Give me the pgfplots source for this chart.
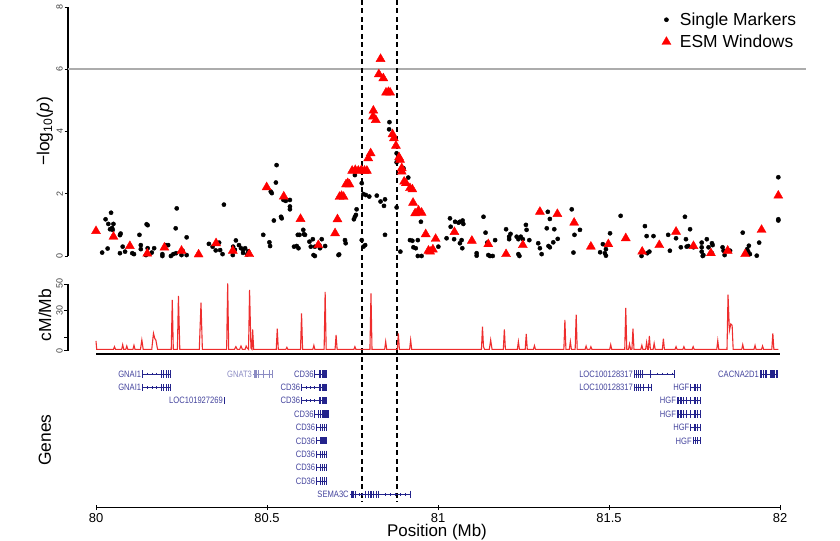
\documentclass[border=0pt]{standalone}
\usepackage{fontspec}
\setmainfont{Liberation Sans}
\newfontfamily\genefont[FakeStretch=0.82]{Liberation Sans}
\usepackage{pgfplots}
\usepackage{pgfplotstable}
\pgfplotsset{compat=1.18}
\definecolor{genecol}{RGB}{35,35,140}
\definecolor{genelight}{RGB}{140,140,195}
\definecolor{recred}{RGB}{238,45,45}

\pgfplotstableread{
x y
80.018 0.11
80.028 1.18
80.034 0.24
80.036 1.03
80.044 1.39
80.041 0.86
80.049 0.84
80.051 1.03
80.047 0.90
80.070 0.09
80.070 0.67
80.072 0.72
80.078 0.30
80.085 0.14
80.106 0.09
80.111 0.06
80.127 0.68
80.131 0.35
80.131 0.22
80.148 1.02
80.151 0.99
80.151 0.25
80.170 0.25
80.163 0.11
80.146 0.03
80.194 0.06
80.194 0.00
80.204 0.35
80.211 0.35
80.219 0.00
80.226 0.06
80.233 0.89
80.236 1.53
80.234 0.09
80.250 0.03
80.253 0.17
80.265 0.60
80.265 0.03
80.330 0.39
80.341 0.30
80.350 0.18
80.360 0.43
80.363 0.19
80.370 0.06
80.374 1.65
80.400 0.03
80.401 0.30
80.406 0.20
80.409 0.50
80.418 0.35
80.424 0.25
80.430 0.20
80.430 0.10
80.436 0.25
80.442 0.05
80.445 0.15
80.489 0.68
80.507 0.44
80.509 0.32
80.520 1.14
80.528 2.92
80.526 2.36
80.511 2.07
80.514 2.02
80.541 1.26
80.543 1.21
80.548 1.80
80.555 1.77
80.567 1.80
80.567 1.59
80.567 1.50
80.579 0.30
80.590 0.68
80.592 0.25
80.595 0.68
80.587 0.32
80.606 0.84
80.608 0.70
80.611 0.68
80.624 0.46
80.634 0.54
80.636 0.03
80.640 0.00
80.628 0.30
80.640 0.30
80.653 0.35
80.655 0.25
80.660 0.54
80.670 0.32
80.709 0.03
80.711 0.05
80.728 0.51
80.730 0.41
80.754 1.18
80.757 1.26
80.762 1.50
80.760 1.32
80.757 2.60
80.777 2.34
80.777 0.51
80.782 0.30
80.787 0.35
80.782 1.99
80.789 1.96
80.799 1.91
80.821 1.94
80.832 1.75
80.845 1.82
80.842 1.61
80.845 0.68
80.858 4.30
80.857 4.07
80.879 3.30
80.879 3.01
80.879 1.56
80.890 0.14
80.897 2.74
80.899 2.82
80.913 2.52
80.950 1.10
80.918 0.51
80.925 0.49
80.928 0.28
80.935 0.25
80.941 0.51
80.941 0.00
80.952 0.00
81.001 0.30
81.025 0.57
81.035 1.21
81.037 0.94
81.047 0.54
81.050 1.10
81.060 1.07
81.064 1.10
81.072 1.14
81.069 0.51
81.071 0.25
81.074 1.03
81.064 0.41
81.113 0.09
81.113 0.01
81.133 1.26
81.139 0.75
81.144 0.43
81.147 0.03
81.152 0.00
81.160 0.00
81.167 0.51
81.199 0.86
81.208 0.62
81.208 0.54
81.212 0.71
81.230 0.62
81.235 0.06
81.238 0.00
81.235 0.54
81.242 0.62
81.248 0.54
81.257 1.00
81.259 0.84
81.267 0.51
81.293 0.41
81.298 0.25
81.303 0.06
81.318 0.89
81.321 1.42
81.327 1.19
81.323 0.32
81.327 0.28
81.337 0.44
81.340 0.86
81.350 0.55
81.391 1.50
81.399 0.68
81.396 0.11
81.415 0.84
81.474 0.12
81.482 0.38
81.488 0.09
81.491 0.01
81.491 0.22
81.503 0.73
81.534 1.29
81.595 0.00
81.605 0.96
81.610 0.64
81.612 0.09
81.630 0.64
81.618 0.14
81.673 0.68
81.678 0.17
81.696 0.57
81.710 0.28
81.722 1.26
81.725 0.54
81.737 0.86
81.727 0.30
81.732 0.32
81.747 0.28
81.771 0.43
81.771 0.28
81.771 0.14
81.774 0.00
81.776 0.03
81.786 0.54
81.791 0.28
81.801 0.41
81.803 0.35
81.801 0.09
81.832 0.28
81.835 0.17
81.838 0.03
81.854 0.17
81.891 0.75
81.904 0.22
81.909 0.33
81.912 0.06
81.907 0.14
81.932 0.01
81.939 0.43
81.995 2.53
81.995 1.18
81.995 1.14
}\singlemarkers

\pgfplotstableread{
x y
80.000 0.80
80.051 0.62
80.099 0.32
80.150 0.08
80.200 0.27
80.250 0.17
80.300 0.05
80.351 0.41
80.400 0.17
80.448 0.06
80.499 2.21
80.549 1.91
80.598 1.19
80.650 0.35
80.699 0.73
80.706 1.18
80.712 1.90
80.718 1.93
80.724 1.90
80.731 2.30
80.736 2.34
80.741 2.30
80.749 2.74
80.758 2.76
80.767 2.74
80.776 2.76
80.785 2.74
80.792 2.74
80.796 3.14
80.803 3.30
80.811 4.67
80.810 4.48
80.818 4.37
80.832 6.33
80.827 5.84
80.840 5.71
80.848 5.25
80.855 5.27
80.860 5.25
80.867 3.91
80.871 3.78
80.877 3.54
80.886 3.17
80.889 3.09
80.894 2.82
80.894 2.71
80.901 2.39
80.906 2.34
80.918 2.18
80.925 2.14
80.927 1.71
80.933 1.37
80.943 1.46
80.952 1.39
80.964 0.70
80.993 0.55
80.972 0.17
80.977 0.14
80.985 0.21
81.048 0.77
81.099 0.49
81.147 0.38
81.199 0.06
81.248 0.35
81.298 1.42
81.349 1.35
81.398 1.07
81.447 0.30
81.498 0.38
81.549 0.57
81.597 0.14
81.647 0.35
81.696 0.78
81.747 0.32
81.798 0.09
81.847 0.17
81.898 0.06
81.946 0.84
81.995 1.94
}\esmwindows

\pgfplotstableread{
x y
80.000 7.3
80.002 1
80.051 1
80.054 3
80.057 1
80.075 1
80.078 4.5
80.081 1
80.087 1
80.090 3.5
80.093 1
80.108 1
80.111 4
80.114 1
80.130 1
80.134 8
80.138 1
80.163 1
80.168 13
80.172 9
80.175 8
80.180 1
80.220 1
80.223 38
80.226 1
80.238 1
80.241 41
80.245 1
80.302 1
80.307 36
80.311 1
80.382 1
80.385 50.5
80.388 1
80.405 1
80.409 3
80.413 1
80.420 1
80.424 3.5
80.428 1
80.436 1
80.439 3.5
80.442 2
80.446 1
80.449 45.5
80.453 2
80.456 1
80.458 16
80.461 1
80.527 1
80.530 16.5
80.533 1
80.555 1
80.558 2.5
80.561 1
80.598 1
80.601 28
80.604 1
80.634 1
80.637 4
80.640 1
80.667 1
80.670 44
80.673 1
80.699 1
80.702 11.8
80.705 1
80.754 1
80.757 3
80.760 1
80.801 1
80.804 43
80.807 1
80.844 1
80.847 6.8
80.850 1
80.881 1
80.884 13
80.887 1
80.917 1
80.920 8
80.923 1
81.127 1
81.130 18
81.133 3
81.136 1
81.150 1
81.154 8
81.158 1
81.191 1
81.194 16
81.197 1
81.232 1
81.235 6.8
81.238 1
81.255 1
81.258 12.5
81.261 1
81.279 1
81.282 3.8
81.285 1
81.368 1
81.371 23
81.374 1
81.384 1
81.387 6.8
81.390 1
81.401 1
81.404 27
81.407 1
81.430 1
81.433 3.5
81.436 1
81.444 1
81.447 3
81.450 1
81.502 1
81.505 4.5
81.508 1
81.546 1
81.549 32
81.552 1
81.557 1
81.560 5
81.563 1
81.567 1
81.570 16.5
81.573 1
81.593 1
81.596 4
81.599 1
81.607 1
81.610 6.3
81.613 1
81.615 1
81.618 11
81.621 1
81.629 1
81.632 5.5
81.635 1
81.656 1
81.659 9
81.662 1
81.693 1
81.696 3
81.699 1
81.716 1
81.719 3
81.722 1
81.743 1
81.746 3
81.749 1
81.815 1
81.818 7.5
81.821 1
81.845 1
81.848 42
81.852 15
81.856 20
81.860 19
81.863 1
81.888 1
81.891 4.5
81.894 1
81.924 1
81.927 4
81.930 1
81.946 1
81.949 3.5
81.952 1
81.976 1
81.979 13
81.982 1
81.995 1
}\recomb

\tikzset{glabel/.style={anchor=east, text=genecol!85, font=\genefont\fontsize{9.3}{10}\selectfont, inner xsep=1.2bp, inner ysep=0pt}}

\begin{document}
\begin{tikzpicture}
\path[use as bounding box] (0,0) rectangle (840bp,541bp);
\pgfplotsset{
  base/.style={scale only axis, width=738bp, xmin=79.9181, xmax=82.0760, clip=false,
    /pgf/number format/assume math mode=true,
    tick align=outside, major tick length=3.5bp,
    every tick/.style={black, line width=0.8bp},
    yticklabel style={rotate=90, anchor=south, inner sep=1.5bp, font=\fontsize{9}{10}\selectfont, text=black!75},
    ylabel style={at={(axis description cs:-0.0312,0.5)}, anchor=center, rotate=0, font=\fontsize{17.5}{20}\selectfont},
  },
  geneline/.style={genecol, line width=0.7bp, forget plot},
  exon/.style={genecol, only marks, mark=|, mark size=3.6bp, mark options={line width=0.9bp}, forget plot},
  arrowm/.style={genecol, only marks, mark=|, mark size=1.3bp, mark options={line width=0.5bp}, forget plot},
}
% ---------------- top panel
\begin{axis}[base, at={(68bp,285bp)}, anchor=south west, height=249bp, ymin=0, ymax=8,
  axis x line=none, axis y line*=left, y axis line style={line width=1.1bp},
  ytick={0,2,4,6,8},
  ylabel={−log\textsubscript{10}(\textit{p})},
  legend style={at={(axis description cs:0.8045,0.986)}, anchor=north west, draw=none, fill=none,
    font=\fontsize{17.5}{20}\selectfont, row sep=4bp, column sep=7bp, inner sep=0pt},
  legend cell align=left]
\addplot[gray!65, line width=1.6bp, forget plot] coordinates {(79.9181,6) (82.0760,6)};
\addplot[only marks, mark=*, mark size=2.1bp, black] table[x=x,y=y] {\singlemarkers};
\addlegendentry{Single Markers}
\addplot[only marks, mark=triangle*, mark size=5.2bp, red, mark options={draw=red, fill=red}] table[x=x,y=y] {\esmwindows};
\addlegendentry{ESM Windows}
\addplot[black, dashed, line width=1.3bp, dash pattern=on 5bp off 3.5bp, forget plot] coordinates {(80.778,8.23) (80.778,-7.9)};
\addplot[black, dashed, line width=1.3bp, dash pattern=on 5bp off 3.5bp, forget plot] coordinates {(80.880,8.23) (80.880,-7.9)};
\end{axis}
% ---------------- recombination panel
\begin{axis}[base, at={(68bp,190.3bp)}, anchor=south west, height=66.7bp, ymin=0, ymax=50,
  axis x line=none, axis y line*=left, y axis line style={line width=1.1bp},
  ytick={0,10,30,50}, yticklabels={0,,30,50},
  ylabel={cM/Mb}, ylabel style={at={(axis description cs:-0.0312,0.535)}}]
\addplot[recred, line width=1.1bp] table[x=x,y=y] {\recomb};
\addplot[black, line width=1.6bp] coordinates {(80,-2.5) (82,-2.5)};
\end{axis}
% ---------------- genes panel
\begin{axis}[base, at={(68bp,33.3bp)}, anchor=south west, height=140.4bp, ymin=0, ymax=10.5,
  axis x line*=bottom, x axis line style={draw=none},
  axis y line*=left, y axis line style={draw=none}, ytick=\empty,
  xtick={80,80.5,81,81.5,82}, xticklabels={80,80.5,81,81.5,82},
  tick align=center, major tick length=5bp,
  xticklabel style={anchor=north, inner sep=0pt, yshift=-3.3bp, font=\fontsize{13}{15}\selectfont},
  xlabel={Position (Mb)},
  xlabel style={at={(axis description cs:0.5,0)}, anchor=north, inner sep=0pt, yshift=-16.8bp, font=\fontsize{17}{20}\selectfont},
  ylabel={Genes}, ylabel style={at={(axis description cs:-0.0312,0.482)}}]
\addplot[black, line width=1.4bp, forget plot] coordinates {(80,0) (82,0)};
% GNAI1 rows 1 and 2
\addplot[geneline] coordinates {(80.136,10) (80.219,10)};
\addplot[exon] coordinates {(80.136,10) (80.190,10) (80.197,10) (80.205,10) (80.211,10) (80.219,10)};
\addplot[arrowm] coordinates {(80.150,10) (80.163,10) (80.175,10)};
\node[glabel] at (axis cs:80.136,10) {GNAI1};
\addplot[geneline] coordinates {(80.136,9) (80.219,9)};
\addplot[exon] coordinates {(80.136,9) (80.190,9) (80.197,9) (80.205,9) (80.211,9) (80.219,9)};
\addplot[arrowm] coordinates {(80.150,9) (80.163,9) (80.175,9)};
\node[glabel] at (axis cs:80.136,9) {GNAI1};
% LOC101927269
\addplot[exon] coordinates {(80.375,8)};
\node[glabel] at (axis cs:80.375,8) {LOC101927269};
% GNAT3
\addplot[genelight, line width=0.7bp, forget plot] coordinates {(80.460,10) (80.515,10)};
\addplot[genelight, only marks, mark=|, mark size=3.6bp, mark options={line width=0.9bp}, forget plot] coordinates {(80.462,10) (80.466,10) (80.470,10) (80.476,10) (80.491,10) (80.506,10) (80.515,10)};
\node[glabel, text=genelight] at (axis cs:80.460,10) {GNAT3};
% CD36
\addplot[geneline] coordinates {(80.640,10) (80.675,10)};
\addplot[exon] coordinates {(80.640,10) (80.652,10) (80.655,10) (80.661,10) (80.664,10) (80.667,10) (80.671,10) (80.675,10)};
\node[glabel] at (axis cs:80.640,10) {CD36};
\addplot[geneline] coordinates {(80.601,9) (80.675,9)};
\addplot[exon] coordinates {(80.601,9) (80.652,9) (80.655,9) (80.661,9) (80.664,9) (80.667,9) (80.671,9) (80.675,9)};
\addplot[arrowm] coordinates {(80.614,9) (80.626,9) (80.637,9)};
\node[glabel] at (axis cs:80.601,9) {CD36};
\addplot[geneline] coordinates {(80.601,8) (80.675,8)};
\addplot[exon] coordinates {(80.601,8) (80.652,8) (80.655,8) (80.661,8) (80.664,8) (80.667,8) (80.671,8) (80.675,8)};
\addplot[arrowm] coordinates {(80.614,8) (80.626,8) (80.637,8)};
\node[glabel] at (axis cs:80.601,8) {CD36};
\addplot[geneline] coordinates {(80.640,7) (80.679,7)};
\addplot[exon] coordinates {(80.640,7) (80.649,7) (80.655,7) (80.661,7) (80.664,7) (80.667,7) (80.671,7) (80.675,7) (80.677,7) (80.679,7)};
\node[glabel] at (axis cs:80.640,7) {CD36};
\addplot[geneline] coordinates {(80.645,6) (80.675,6)};
\addplot[exon] coordinates {(80.645,6) (80.655,6) (80.661,6) (80.667,6) (80.675,6)};
\node[glabel] at (axis cs:80.645,6) {CD36};
\addplot[geneline] coordinates {(80.645,5) (80.675,5)};
\addplot[exon] coordinates {(80.645,5) (80.655,5) (80.658,5) (80.661,5) (80.664,5) (80.667,5) (80.671,5) (80.675,5)};
\node[glabel] at (axis cs:80.645,5) {CD36};
\addplot[geneline] coordinates {(80.645,4) (80.675,4)};
\addplot[exon] coordinates {(80.645,4) (80.655,4) (80.661,4) (80.667,4) (80.675,4)};
\node[glabel] at (axis cs:80.645,4) {CD36};
\addplot[geneline] coordinates {(80.645,3) (80.675,3)};
\addplot[exon] coordinates {(80.645,3) (80.655,3) (80.661,3) (80.667,3) (80.675,3)};
\node[glabel] at (axis cs:80.645,3) {CD36};
\addplot[geneline] coordinates {(80.645,2) (80.675,2)};
\addplot[exon] coordinates {(80.645,2) (80.655,2) (80.661,2) (80.667,2) (80.675,2)};
\node[glabel] at (axis cs:80.645,2) {CD36};
% SEMA3C
\addplot[geneline] coordinates {(80.743,1) (80.918,1)};
\addplot[exon] coordinates {(80.746,1) (80.750,1) (80.754,1) (80.760,1) (80.789,1) (80.798,1) (80.801,1) (80.804,1) (80.810,1) (80.819,1) (80.827,1) (80.918,1)};
\addplot[arrowm] coordinates {(80.770,1) (80.779,1) (80.845,1) (80.860,1) (80.874,1) (80.889,1) (80.903,1)};
\node[glabel] at (axis cs:80.743,1) {SEMA3C};
% LOC100128317
\addplot[geneline] coordinates {(81.574,10) (81.691,10)};
\addplot[exon] coordinates {(81.574,10) (81.579,10) (81.585,10) (81.591,10) (81.599,10) (81.620,10) (81.691,10)};
\addplot[arrowm] coordinates {(81.640,10) (81.655,10) (81.670,10) (81.684,10)};
\node[glabel] at (axis cs:81.574,10) {LOC100128317};
\addplot[geneline] coordinates {(81.574,9) (81.625,9)};
\addplot[exon] coordinates {(81.574,9) (81.579,9) (81.585,9) (81.591,9) (81.602,9) (81.614,9) (81.625,9)};
\node[glabel] at (axis cs:81.574,9) {LOC100128317};
% CACNA2D1
\addplot[geneline] coordinates {(81.942,10) (81.993,10)};
\addplot[exon] coordinates {(81.942,10) (81.947,10) (81.953,10) (81.956,10) (81.959,10) (81.971,10) (81.974,10) (81.977,10) (81.981,10) (81.985,10) (81.989,10) (81.993,10)};
\node[glabel] at (axis cs:81.942,10) {CACNA2D1};
% HGF
\addplot[geneline] coordinates {(81.739,9) (81.766,9)};
\addplot[exon] coordinates {(81.739,9) (81.749,9) (81.754,9) (81.760,9) (81.766,9)};
\node[glabel] at (axis cs:81.739,9) {HGF};
\addplot[geneline] coordinates {(81.700,8) (81.766,8)};
\addplot[exon] coordinates {(81.700,8) (81.703,8) (81.708,8) (81.713,8) (81.719,8) (81.725,8) (81.739,8) (81.749,8) (81.754,8) (81.760,8) (81.766,8)};
\node[glabel] at (axis cs:81.700,8) {HGF};
\addplot[geneline] coordinates {(81.700,7) (81.766,7)};
\addplot[exon] coordinates {(81.700,7) (81.703,7) (81.708,7) (81.713,7) (81.719,7) (81.725,7) (81.739,7) (81.749,7) (81.754,7) (81.760,7) (81.766,7)};
\node[glabel] at (axis cs:81.700,7) {HGF};
\addplot[geneline] coordinates {(81.739,6) (81.766,6)};
\addplot[exon] coordinates {(81.739,6) (81.749,6) (81.754,6) (81.760,6) (81.766,6)};
\node[glabel] at (axis cs:81.739,6) {HGF};
\addplot[geneline] coordinates {(81.746,5) (81.766,5)};
\addplot[exon] coordinates {(81.746,5) (81.754,5) (81.760,5) (81.766,5)};
\node[glabel] at (axis cs:81.746,5) {HGF};
\end{axis}
\end{tikzpicture}
\end{document}
